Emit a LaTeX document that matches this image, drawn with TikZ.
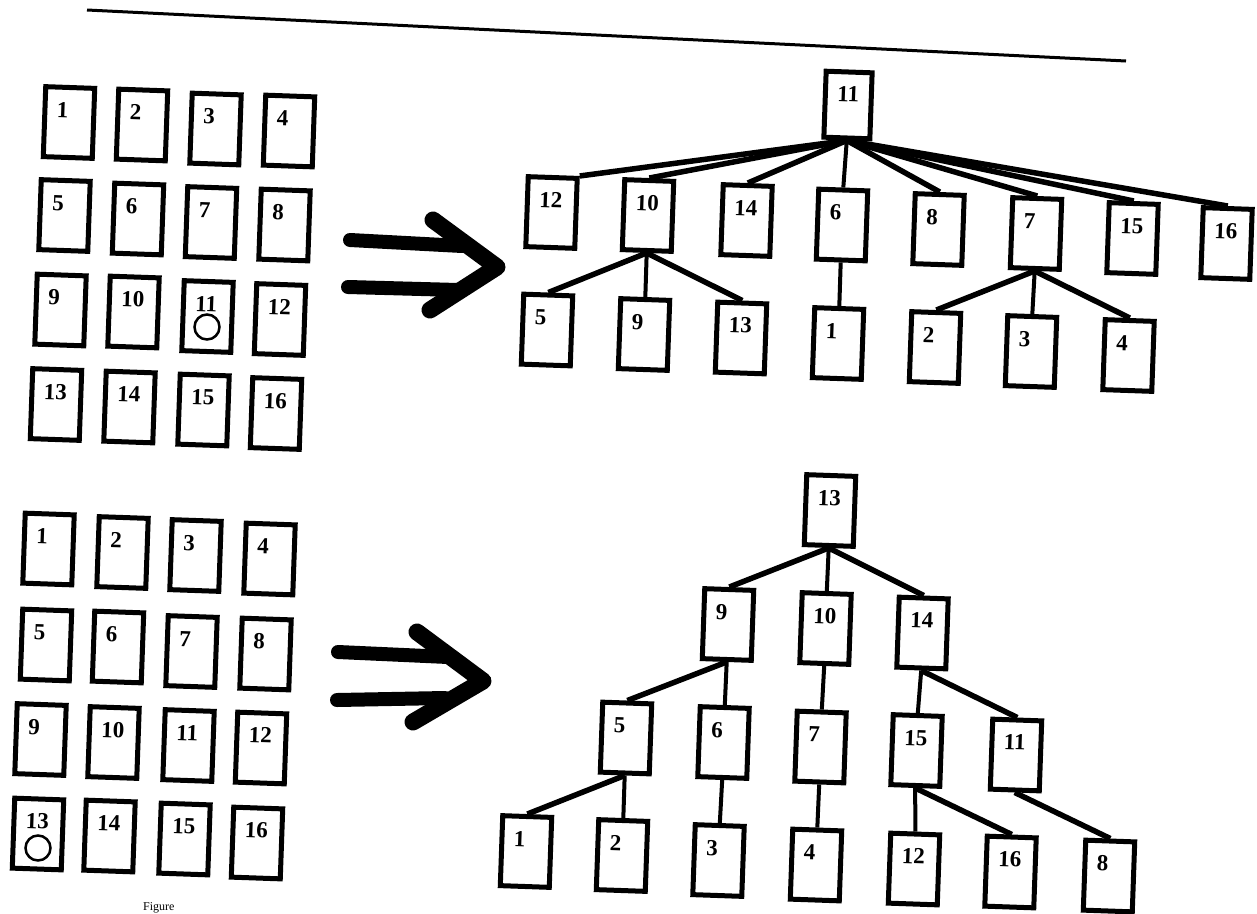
\documentclass[tikz,border=0pt]{standalone}
\usepackage{fontspec}
\setmainfont{Liberation Serif}
\begin{document}
\begin{tikzpicture}[x=1pt,y=-1pt,
  card/.style={draw, line width=5pt, rotate=-2, minimum width=49pt, minimum height=70pt,
    text width=25pt, inner xsep=12pt, inner ysep=6pt, text height=24pt, text depth=34pt,
    align=left, font=\fontsize{23}{25}\bfseries\selectfont},
  smallcard/.style={card, minimum width=46pt, minimum height=66pt, text width=22pt, text depth=30pt},
  ringmark/.style={draw, circle, line width=2.5pt, minimum size=25pt, inner sep=0pt},
  branch/.style={line width=5.5pt},
  vbranch/.style={line width=4pt},
  shaft/.style={line width=14pt, line cap=round},
  chev/.style={line width=17pt, line cap=round, line join=round},
  rule/.style={line width=3pt}]
\useasboundingbox (0,0) rectangle (1257,913);
\clip (0,0) rectangle (1257,913);

% top rule
\draw[rule] (87,10) -- (1126,61);

% ---------- top grid ----------
\foreach \n/\x/\y in {1/69/122.5, 2/142/125, 3/215.5/129, 4/289/131,
  5/64.5/215.5, 6/138/219, 7/211/222.5, 8/284.5/225,
  9/60.5/310, 10/133.5/312, 11/207.5/316.5, 12/280/319.5,
  13/56/404.5, 14/129.5/407, 15/203.5/410, 16/276/413.5}
  \node[card] (ga\n) at (\x,\y) {\n};
\node[ringmark] (gamark) at (207,327) {};

% ---------- top arrow ----------
\draw[shaft] (350,240) -- (462,246);
\draw[shaft] (348,287) -- (458,290);
\draw[chev] (433,220) -- (497,267) -- (430,310);

% ---------- top tree ----------
\node[smallcard] (ta11) at (848,105) {11};
\foreach \n/\x/\y in {12/551.5/212.5, 10/648/215.5, 14/746.5/220.5, 6/842/225,
  8/938.5/229.5, 7/1036/233.5, 15/1132.5/238.5, 16/1226.5/243.5,
  5/547/330, 9/644/334.5, 13/741/338, 1/838/343.5, 2/935/347.5,
  3/1031/351.5, 4/1128.5/355.5}
  \node[card] (ta\n) at (\x,\y) {\n};
\draw[branch] (ta11.south) -- (ta12.north east);
\foreach \c in {10,14,8,7,15,16}
  \draw[branch] (ta11.south) -- (ta\c.north);
\draw[vbranch] (ta11.south) -- (ta6.north);
\foreach \c in {5,13}
  \draw[branch] (ta10.south) -- (ta\c.north);
\draw[vbranch] (ta10.south) -- (ta9.north);
\draw[vbranch] (ta6.south) -- (ta1.north);
\foreach \c in {2,4}
  \draw[branch] (ta7.south) -- (ta\c.north);
\draw[vbranch] (ta7.south) -- (ta3.north);

% ---------- bottom grid ----------
\foreach \n/\x/\y in {1/48.5/549, 2/122.5/552.5, 3/195.5/555.5, 4/269.5/559,
  5/46/645, 6/118/647, 7/191.5/651.5, 8/265.5/654,
  9/40.5/739.5, 10/113.5/742.5, 11/188.5/745.5, 12/261/748,
  13/38/834, 14/109.5/836, 15/184.5/839, 16/257/843}
  \node[card] (gb\n) at (\x,\y) {\n};
\node[ringmark] (gbmark) at (38,848) {};

% ---------- bottom arrow ----------
\draw[shaft] (338,652) -- (448,657);
\draw[shaft] (337,700) -- (445,698);
\draw[chev] (417,632) -- (483,681) -- (413,722);

% ---------- bottom tree ----------
\foreach \n/\x/\y in {13/830/510.5, 9/728/624.5, 10/825.5/628.5, 14/922.5/633,
  5/626/738, 6/723.5/742.5, 7/820.5/747, 15/916.5/750.5, 11/1016/755,
  1/526/851.5, 2/622/855.5, 3/718.5/860.5, 4/816/865, 12/914/869,
  16/1010.5/872, 8/1109/876}
  \node[card] (tb\n) at (\x,\y) {\n};
\draw[branch] (tb13.south) -- (tb9.north);
\draw[vbranch] (tb13.south) -- (tb10.north);
\draw[branch] (tb13.south) -- (tb14.north);
\draw[branch] (tb9.south) -- (tb5.north);
\draw[vbranch] (tb9.south) -- (tb6.north);
\draw[vbranch] (tb10.south) -- (tb7.north);
\draw[vbranch] (tb14.south) -- (tb15.north);
\draw[branch] (tb14.south) -- (tb11.north);
\draw[branch] (tb5.south) -- (tb1.north);
\draw[vbranch] (tb5.south) -- (tb2.north);
\draw[vbranch] (tb6.south) -- (tb3.north);
\draw[vbranch] (tb7.south) -- (tb4.north);
\draw[vbranch] (tb15.south) -- (tb12.north);
\draw[branch] (tb15.south) -- (tb16.north);
\draw[branch] (tb11.south) -- (tb8.north);

% caption (at the lower page edge)
\node[anchor=base west, inner sep=0pt, font=\fontsize{12}{13}\selectfont] (cap) at (143,910) {Figure};
\end{tikzpicture}
\end{document}
